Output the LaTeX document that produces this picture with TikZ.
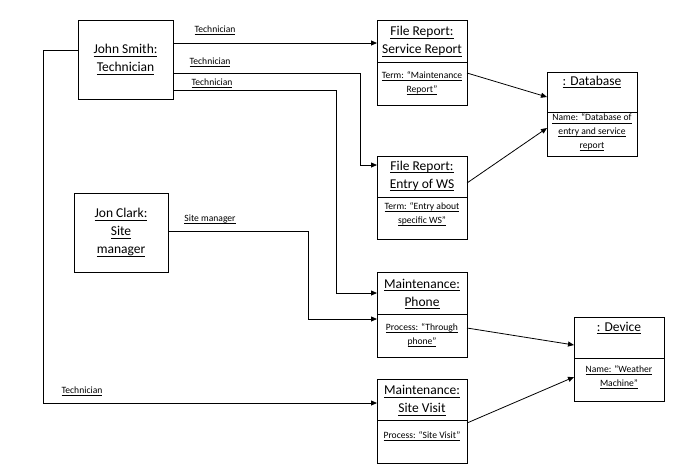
\documentclass[tikz,border=0pt]{standalone}
\usepackage{fontspec}
\setmainfont{Carlito}
\usetikzlibrary{arrows.meta}
\newcommand\myul[1]{\underline{\raisebox{0pt}[\height][0.5pt]{#1}}}
\begin{document}
\begin{tikzpicture}[x=1pt,y=-1pt,line width=0.8pt,
  objbox/.style={draw,line width=0.8pt,anchor=north west,inner sep=0pt,outer sep=0pt},
  actorbox/.style={objbox,align=center,font=\fontsize{13.5}{18}\selectfont},
  titletext/.style={align=center,inner sep=0pt,font=\fontsize{13.5}{18}\selectfont},
  attrtext/.style={align=center,inner sep=0pt,font=\fontsize{9.6}{13.8}\selectfont},
  roletext/.style={inner sep=0pt,font=\fontsize{9.6}{12}\selectfont},
  divider/.style={line width=0.8pt},
  conn/.style={line width=0.8pt,-{Triangle[length=6pt,width=5pt]}},
  plain/.style={line width=0.8pt}]
\useasboundingbox (0,0) rectangle (677,475);
\fill[white] (0,0) rectangle (677,475);

% actors
\node[actorbox,minimum width=95pt,minimum height=79pt] (js) at (78,20)
  {\myul{John Smith:}\\\myul{Technician}};
\node[actorbox,minimum width=94pt,minimum height=79pt] (jc) at (74,193)
  {\myul{Jon Clark:}\\\myul{Site}\\\myul{manager}};

% object boxes
\node[objbox,minimum width=90pt,minimum height=85pt] (sr) at (377,20) {};
\node[objbox,minimum width=90pt,minimum height=83pt] (ew) at (377,156) {};
\node[objbox,minimum width=90pt,minimum height=85pt] (ph) at (377,272) {};
\node[objbox,minimum width=90pt,minimum height=84pt] (sv) at (377,379) {};
\node[objbox,minimum width=90pt,minimum height=84pt] (db) at (547,72) {};
\node[objbox,minimum width=90pt,minimum height=84pt] (dv) at (574,317) {};

% dividers
\draw[divider] ([yshift=-42pt]sr.north west) -- ([yshift=-42pt]sr.north east);
\draw[divider] ([yshift=-41pt]ew.north west) -- ([yshift=-41pt]ew.north east);
\draw[divider] ([yshift=-42pt]ph.north west) -- ([yshift=-42pt]ph.north east);
\draw[divider] ([yshift=-41pt]sv.north west) -- ([yshift=-41pt]sv.north east);
\draw[divider] ([yshift=-40pt]db.north west) -- ([yshift=-40pt]db.north east);
\draw[divider] ([yshift=-41pt]dv.north west) -- ([yshift=-41pt]dv.north east);

% titles
\node[titletext] (srt) at (422,41.5) {\myul{File Report:}\\\myul{Service Report}};
\node[titletext] (ewt) at (422,176) {\myul{File Report:}\\\myul{Entry of WS}};
\node[titletext] (pht) at (422,294) {\myul{Maintenance:}\\\myul{Phone}};
\node[titletext] (svt) at (422,400.5) {\myul{Maintenance:}\\\myul{Site Visit}};
\node[titletext] (dbt) at (592,82) {\myul{: Database}};
\node[titletext] (dvt) at (619,328) {\myul{: Device}};

% attributes
\node[attrtext] (sra) at (422,83) {\myul{Term: “Maintenance}\\\myul{Report”}};
\node[attrtext] (ewa) at (422,214) {\myul{Term: “Entry about}\\\myul{specific WS”}};
\node[attrtext] (pha) at (422,335) {\myul{Process: “Through}\\\myul{phone”}};
\node[attrtext] (sva) at (422,436) {\myul{Process: “Site Visit”}};
\node[attrtext] (dba) at (592,132.5) {\myul{Name: “Database of}\\\myul{entry and service}\\\myul{report}};
\node[attrtext] (dva) at (619,377) {\myul{Name: “Weather}\\\myul{Machine”}};

% role labels
\node[roletext] (l1) at (215,30) {\myul{Technician}};
\node[roletext] (l2) at (210,62) {\myul{Technician}};
\node[roletext] (l3) at (212,83) {\myul{Technician}};
\node[roletext] (l4) at (210,219) {\myul{Site manager}};
\node[roletext] (l5) at (82,391) {\myul{Technician}};

% ports
\coordinate (js1) at ([yshift=-23pt]js.north east);
\coordinate (js2) at ([yshift=-53pt]js.north east);
\coordinate (js3) at ([yshift=-70pt]js.north east);
\coordinate (js4) at ([yshift=-30pt]js.north west);
\coordinate (jc1) at ([yshift=-38pt]jc.north east);
\coordinate (srin) at ([yshift=-23pt]sr.north west);
\coordinate (srout) at ([yshift=-53pt]sr.north east);
\coordinate (ewin) at ([yshift=-9pt]ew.north west);
\coordinate (ewout) at ([yshift=-27pt]ew.north east);
\coordinate (phin1) at ([yshift=-21pt]ph.north west);
\coordinate (phin2) at ([yshift=-47pt]ph.north west);
\coordinate (phout) at ([yshift=-56pt]ph.north east);
\coordinate (svin) at ([yshift=-24pt]sv.north west);
\coordinate (svout) at ([yshift=-44pt]sv.north east);
\coordinate (dbin1) at ([yshift=-25pt]db.north west);
\coordinate (dbin2) at ([yshift=-56pt]db.north west);
\coordinate (dvin1) at ([yshift=-28pt]dv.north west);
\coordinate (dvin2) at ([yshift=-60pt]dv.north west);

% bend coordinates
\coordinate (b2) at (360,0);
\coordinate (b3) at (336,0);
\coordinate (b4) at (308,0);
\coordinate (b5) at (43,0);

% connectors
\draw[conn] (js1) -- (srin);
\draw[conn] (js2) -| (b2 |- ewin) -- (ewin);
\draw[conn] (js3) -| (b3 |- phin1) -- (phin1);
\draw[conn] (jc1) -| (b4 |- phin2) -- (phin2);
\draw[conn] (js4) -| (b5 |- svin) -- (svin);

\draw[conn] (srout) -- (dbin1);
\draw[conn] (ewout) -- (dbin2);
\draw[conn] (phout) -- (dvin1);
\draw[conn] (svout) -- (dvin2);
\end{tikzpicture}
\end{document}
